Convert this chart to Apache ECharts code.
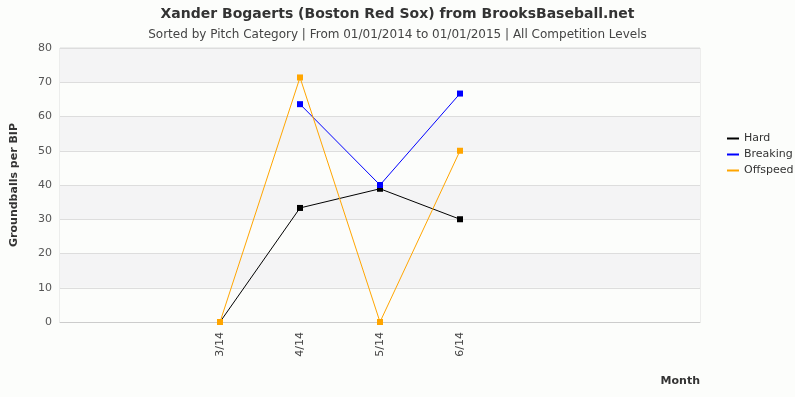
<!DOCTYPE html>
<html>
<head>
<meta charset="utf-8">
<script src="https://cdn.jsdelivr.net/npm/echarts@6/dist/echarts.min.js"></script>
<style>
  html, body { margin: 0; padding: 0; background: #fcfdfb; }
  #chart { width: 795px; height: 397px; }
</style>
</head>
<body>
<div id="chart"></div>
<script>
// months, blank slots keep the spacing of the original axis
const months = ['', '', '3/14', '4/14', '5/14', '6/14', '', '', '']
const hard = [null, null, 0, 33.3, 38.9, 30.0, null, null, null]
const breaking = [null, null, null, 63.6, 40.0, 66.7, null, null, null]
const offspeed = [null, null, 0, 71.4, 0, 50.0, null, null, null]
const yTicks = [0, 80, 10] // min, max, interval

const font = 'DejaVu Sans'

const makeSeries = (name, data, color) => ({
  name,
  type: 'line',
  data,
  color,
  symbol: 'rect',
  symbolSize: 6,
  connectNulls: false,
  lineStyle: { width: 1, color },
  itemStyle: { color },
  emphasis: { disabled: true }
})

const chart = echarts.init(document.getElementById('chart'))
chart.setOption({
  backgroundColor: '#fcfdfb',
  animation: false,
  textStyle: { fontFamily: font },
  title: [
    {
      text: 'Xander Bogaerts (Boston Red Sox) from BrooksBaseball.net',
      left: 'center',
      top: 2,
      textStyle: { fontFamily: font, fontSize: 14, fontWeight: 'bold', color: '#333' }
    },
    {
      text: 'Sorted by Pitch Category | From 01/01/2014 to 01/01/2015 | All Competition Levels',
      left: 'center',
      top: 24,
      textStyle: { fontFamily: font, fontSize: 12, fontWeight: 'normal', color: '#444' }
    }
  ],
  legend: {
    orient: 'vertical',
    left: 722,
    top: 128,
    itemWidth: 12,
    itemHeight: 2,
    itemGap: 5,
    icon: 'rect',
    textStyle: { fontFamily: font, fontSize: 11, color: '#333' },
    data: ['Hard', 'Breaking', 'Offspeed']
  },
  grid: {
    left: 60,
    right: 95,
    top: 48,
    bottom: 75,
    show: true,
    borderColor: '#ddd',
    borderWidth: 1,
    backgroundColor: 'transparent'
  },
  xAxis: {
    type: 'category',
    data: months,
    boundaryGap: false,
    name: 'Month',
    nameLocation: 'end',
    nameGap: 0,
    nameTextStyle: {
      fontFamily: font, fontSize: 11, fontWeight: 'bold', color: '#333',
      align: 'right', verticalAlign: 'top', padding: [54, 0, 0, 0]
    },
    axisLine: { lineStyle: { color: '#ccc' } },
    axisTick: { show: false },
    axisLabel: {
      rotate: 90,
      interval: 0,
      margin: 10,
      fontFamily: font,
      fontSize: 11,
      color: '#444'
    },
    splitLine: { show: false }
  },
  yAxis: {
    type: 'value',
    min: yTicks[0],
    max: yTicks[1],
    interval: yTicks[2],
    name: 'Groundballs per BIP',
    nameLocation: 'middle',
    nameGap: 40,
    nameTextStyle: { fontFamily: font, fontSize: 11, fontWeight: 'bold', color: '#333' },
    axisLine: { show: false },
    axisTick: { show: false },
    axisLabel: { fontFamily: font, fontSize: 11, color: '#555', margin: 8 },
    splitLine: { lineStyle: { color: '#ddd' } },
    splitArea: { show: true, areaStyle: { color: ['#fcfdfb', '#f4f4f5'] } }
  },
  series: [
    makeSeries('Hard', hard, '#000000'),
    makeSeries('Breaking', breaking, '#0000ff'),
    makeSeries('Offspeed', offspeed, '#ffa500')
  ]
})
</script>
</body>
</html>
